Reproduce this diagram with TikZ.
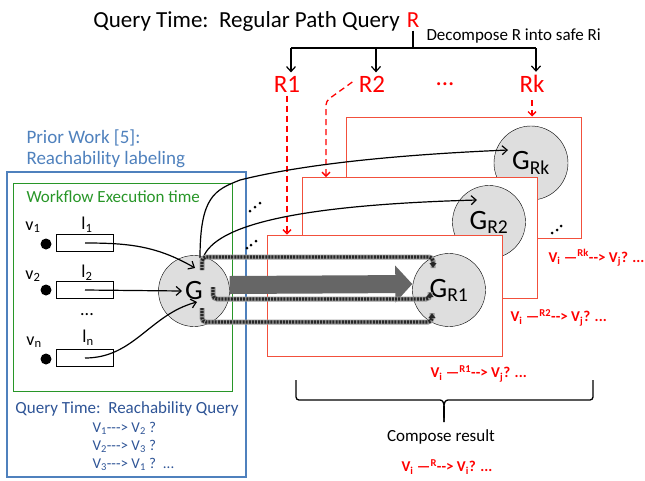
\documentclass[tikz,border=0pt]{standalone}
\usepackage{fontspec}
\setmainfont{Carlito}
\usetikzlibrary{arrows.meta}

\definecolor{qred}{RGB}{255,0,0}
\definecolor{boxred}{RGB}{242,80,60}
\definecolor{priorblue}{RGB}{79,129,189}
\definecolor{queryblue}{RGB}{46,84,150}
\definecolor{wfgreen}{RGB}{40,150,40}
\definecolor{graphfill}{RGB}{222,222,222}

\begin{document}
\begin{tikzpicture}[x=1pt, y=-1pt,
  fs/.style={font=\fontsize{#1}{#1}\selectfont},
  graphnode/.style={circle, draw=black, fill=graphfill, inner sep=0pt, minimum size=#1, fs=28},
  rbox/.style={draw=boxred, fill=white, line width=1pt, minimum width=235pt, minimum height=121pt, inner sep=0pt},
  lrect/.style={draw=black, line width=0.8pt, minimum width=57pt, minimum height=17pt, inner sep=0pt},
  vdot/.style={circle, fill=black, minimum size=11pt, inner sep=0pt},
  arr/.style={line width=1.2pt, -{Straight Barb[length=5pt,width=9pt]}},
  reddash/.style={qred, line width=1.3pt, dash pattern=on 6pt off 4pt, -{Straight Barb[length=4pt,width=8pt]}},
  dotpath/.style={black!85, line width=3.4pt, dash pattern=on 2pt off 1.1pt, rounded corners=4pt,
    preaction={draw, black!40, line width=5pt, solid, arrows=-},
    -{Latex[length=5pt,width=8pt]}},
  bigarrow/.style={black!60, line width=18pt, -{Triangle[length=17pt,width=36pt]}},
  redformula/.style={fs=15, text=qred, font=\bfseries\fontsize{15}{15}\selectfont}]
  \useasboundingbox (0,0) rectangle (645,480);

  % query and its decomposition
  \node[fs=23, text=qred, anchor=base] (Rq) at (413,27) {R};
  \node[fs=23, anchor=base east] (title) at (Rq.base west) {Query Time:\ \ Regular Path Query};
  \node[fs=17, anchor=west] (decomp) at (423,36) {Decompose R into safe Ri};
  \coordinate (bar) at (0,48);
  \node[fs=25, text=qred] (R1) at (287,84) {R1};
  \node[fs=25, text=qred] (R2) at (372,84) {R2};
  \node[fs=25, text=qred] (Rdots) at (445,84) {...};
  \node[fs=25, text=qred] (Rk) at (532,84) {Rk};
  \draw[line width=1.2pt] (Rq.south) -- (Rq.south |- bar);
  \coordinate (R1 top) at ([xshift=4pt]R1.north);
  \coordinate (R2 top) at ([xshift=4pt]R2.north);
  \coordinate (Rk top) at ([xshift=4pt]Rk.north);
  \foreach \r in {R1,R2,Rk}
    \draw[arr] (\r\space top |- bar) -- (\r\space top);
  \draw[line width=1.2pt] (R1 top |- bar) -- (Rk top |- bar);

  % prior work
  \draw[priorblue, line width=1.3pt] (7,172) rectangle (246,477);
  \draw[wfgreen, line width=1pt] (13,183) rectangle (232,391);
  \node[fs=19, text=priorblue, anchor=west] (prior) at (23,138) {Prior Work [5]:};
  \node[fs=19, text=priorblue, anchor=west] (reach) at (23,160) {Reachability labeling};
  \node[fs=17, text=wfgreen, anchor=west] (wf) at (23,197) {Workflow Execution time};

  \node[vdot] (d1) at (46,244) {};
  \node[vdot] (d2) at (46,290) {};
  \node[vdot] (dn) at (46,359) {};
  \node[lrect] (l1) at (85,243) {};
  \node[lrect] (l2) at (85,290) {};
  \node[lrect] (ln) at (85,358) {};
  \node[fs=18] (v1) at (33,227) {v\textsubscript{1}};
  \node[fs=18] (v2) at (33,276) {v\textsubscript{2}};
  \node[fs=18] (vn) at (34,342) {v\textsubscript{n}};
  \node[fs=18] (l1 lab) at (87,225) {l\textsubscript{1}};
  \node[fs=18] (l2 lab) at (87,273) {l\textsubscript{2}};
  \node[fs=18] (ln lab) at (88,338) {l\textsubscript{n}};
  \node[fs=18] (ldots) at (87,315) {...};

  \node[fs=17, text=queryblue] (rq) at (127,409) {Query Time:\ \ Reachability Query};
  \node[fs=15, text=queryblue, anchor=west] (q1) at (89,428) {V\textsubscript{1}{-}{-}{-}> V\textsubscript{2} ?};
  \node[fs=15, text=queryblue, anchor=west] (q2) at (89,446) {V\textsubscript{2}{-}{-}{-}> V\textsubscript{3} ?};
  \node[fs=15, text=queryblue, anchor=west] (q3) at (89,464) {V\textsubscript{3}{-}{-}{-}> V\textsubscript{1} ?\ \ ...};

  % safe sub-query graphs
  \node[rbox] (boxk) at (463.5,177.5) {};
  \node[graphnode=74pt] (GRk) at (531,163) {G\textsubscript{Rk}};
  \node[rbox] (box2) at (420,238) {};
  \node[graphnode=73pt] (GR2) at (489,222) {G\textsubscript{R2}};
  \node[rbox] (box1) at (384.5,295.5) {};
  \node[graphnode=73pt] (GR1) at (449,290) {G\textsubscript{R1}};

  \node[graphnode=71pt] (G) at (194,291) {G};

  % red arrows
  \draw[reddash] (R1.south) -- (R1.south |- box1.north);
  \coordinate (R2bend) at (326,101);
  \draw[reddash, rounded corners=4pt] ([shift={(-3,-2)}]R2.west) -- (R2bend) -- (R2bend |- box2.north);
  \draw[reddash] ([yshift=-4pt]Rk.south) -- (Rk.south |- boxk.north);

  % labels into G
  \draw[arr] (l1.center) to[out=0, in=150] ([shift={(1,-23)}]G.center);
  \draw[arr] (l2.center) -- ([xshift=-12pt]G.center);
  \draw[arr] (ln.center) to[out=0, in=195] ([shift={(3,11)}]G.center);

  % G to the other graphs
  \draw[line width=1.2pt, -{Straight Barb[length=5pt,width=9pt]}] ([shift={(6,-33)}]G.center) .. controls +(0,-62) and +(-25,10) .. (240,180)
    .. controls +(80,-20) and +(-70,3) .. ([shift={(-23,-13)}]GRk.center);
  \draw[arr] ([shift={(9,-33)}]G.center) .. controls +(12,-33) and +(-180,5) .. ([shift={(-12,-22)}]GR2.center);

  \draw[bigarrow] ([yshift=6pt]G.east) -- ([yshift=6pt]GR1.west);

  \draw[dotpath] ([shift={(8,-21)}]G.center) -- ++(0,-13) -| ([shift={(-16,-22)}]GR1.center);
  \draw[dotpath] ([shift={(19,-4)}]G.center) -- ++(0,12) -| ([shift={(-19,2)}]GR1.center);
  \draw[dotpath] ([shift={(8,17)}]G.center) -- ++(0,14) -| ([shift={(-17,23)}]GR1.center);

  % more graphs
  \foreach \x/\y in {250/211, 255/207, 260/203, 247/248, 251/245, 256/241, 552/233, 557/230, 561/226}
    \fill (\x,\y) circle (1.5pt);

  % per-graph results
  \node[redformula, anchor=west] (resk) at (545,258) {V\textsubscript{i} —\textsuperscript{Rk}{-}{-}> V\textsubscript{j}? ...};
  \node[redformula, anchor=west] (res2) at (507,318) {V\textsubscript{i} —\textsuperscript{R2}{-}{-}> V\textsubscript{j}? ...};
  \node[redformula, anchor=west] (res1) at (427,374) {V\textsubscript{i} —\textsuperscript{R1}{-}{-}> V\textsubscript{j}? ...};

  % compose
  \coordinate (braceL) at (296,380);
  \coordinate (braceR) at (593,380);
  \coordinate (braceTip) at (444,422);
  \coordinate (braceBar) at (0,400);
  \draw[line width=1.3pt, rounded corners=3pt] (braceL) |- ([xshift=-7pt]braceTip |- braceBar) to[out=0, in=90] (braceTip);
  \draw[line width=1.3pt, rounded corners=3pt] (braceR) |- ([xshift=7pt]braceTip |- braceBar) to[out=180, in=90] (braceTip);
  \node[fs=17] (compose) at (441,437) {Compose result};
  \node[redformula] (res) at (447,467) {V\textsubscript{i} —\textsuperscript{R}{-}{-}> V\textsubscript{i}? ...};
\end{tikzpicture}
\end{document}
